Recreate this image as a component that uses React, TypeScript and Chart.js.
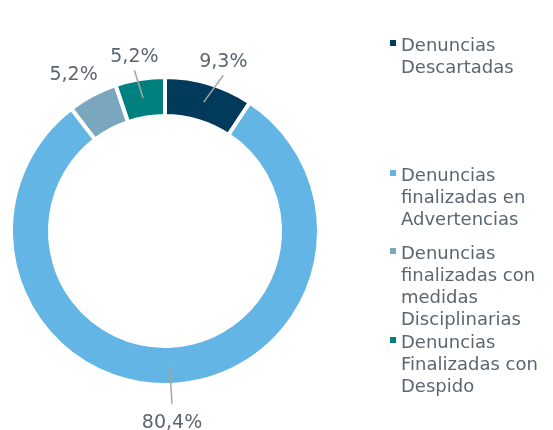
import React, { useEffect, useRef } from 'react';
import { Chart, registerables } from 'chart.js';

Chart.register(...registerables);

const categories: string[][] = [
  ['Denuncias', 'Descartadas'],
  ['Denuncias', 'finalizadas en', 'Advertencias'],
  ['Denuncias', 'finalizadas con', 'medidas', 'Disciplinarias'],
  ['Denuncias', 'Finalizadas con', 'Despido'],
];
const values = [9.3, 80.4, 5.2, 5.2];
const valueLabels = ['9,3%', '80,4%', '5,2%', '5,2%'];
const colors = ['#023A5B', '#63B5E5', '#7AA7BE', '#00807F'];
const leaderLines = [true, true, false, true];

const TEXT = '#5B6670';
const FONT = '"DejaVu Sans", Verdana, sans-serif';
const legendBaselines = [51, 181, 259, 348];

const labelPlugin = {
  id: 'sliceLabels',
  afterDatasetsDraw(chart: any) {
    const ctx = chart.ctx as CanvasRenderingContext2D;
    const meta = chart.getDatasetMeta(0);
    ctx.save();
    ctx.font = `19px ${FONT}`;
    ctx.fillStyle = TEXT;
    ctx.strokeStyle = '#A6A6A6';
    ctx.lineWidth = 1.5;
    meta.data.forEach((arc: any, i: number) => {
      const { x, y, startAngle, endAngle, innerRadius, outerRadius } = arc.getProps(
        ['x', 'y', 'startAngle', 'endAngle', 'innerRadius', 'outerRadius'],
        true
      );
      const mid = (startAngle + endAngle) / 2;
      const cos = Math.cos(mid);
      const sin = Math.sin(mid);
      const text = valueLabels[i];
      const w = ctx.measureText(text).width;
      const rMid = (innerRadius + outerRadius) / 2;
      let tx: number, baseline: number, lx: number, ly: number;
      if (sin < 0) {
        const r = outerRadius + 17;
        tx = x + r * cos + cos * w * 0.55 + 1.5;
        baseline = y + r * sin;
        lx = tx;
        ly = baseline + 8;
      } else {
        const r = outerRadius + 19;
        const px = x + r * cos;
        ly = y + r * sin;
        tx = px + cos * w * 0.5;
        lx = tx;
        baseline = ly + 24;
      }
      if (leaderLines[i]) {
        ctx.beginPath();
        ctx.moveTo(x + rMid * cos, y + rMid * sin);
        ctx.lineTo(lx, ly);
        ctx.stroke();
      }
      ctx.textAlign = 'center';
      ctx.textBaseline = 'alphabetic';
      ctx.fillText(text, tx, baseline);
    });
    ctx.restore();
  },
};

const legendPlugin = {
  id: 'sideLegend',
  afterDraw(chart: any) {
    const ctx = chart.ctx as CanvasRenderingContext2D;
    ctx.save();
    ctx.font = `18px ${FONT}`;
    ctx.textAlign = 'left';
    ctx.textBaseline = 'alphabetic';
    categories.forEach((lines, i) => {
      const b = legendBaselines[i];
      ctx.fillStyle = colors[i];
      ctx.fillRect(390, b - 11, 6, 6);
      ctx.fillStyle = TEXT;
      lines.forEach((ln, j) => ctx.fillText(ln, 401, b + j * 22));
    });
    ctx.restore();
  },
};

export default function App() {
  const ref = useRef<HTMLCanvasElement>(null);
  useEffect(() => {
    if (!ref.current) return;
    const chart = new Chart(ref.current, {
      type: 'doughnut',
      data: {
        labels: categories,
        datasets: [
          {
            data: values,
            backgroundColor: colors,
            borderColor: '#FFFFFF',
            borderWidth: 4,
            hoverBorderWidth: 4,
            hoverOffset: 0,
          },
        ],
      },
      options: {
        animation: false,
        responsive: true,
        maintainAspectRatio: false,
        cutout: '74.7%',
        events: [],
        layout: { padding: { left: 9, right: 232, top: 75, bottom: 43 } },
        plugins: {
          legend: { display: false },
          tooltip: { enabled: false },
        },
      },
      plugins: [labelPlugin, legendPlugin],
    });
    return () => chart.destroy();
  }, []);
  return (
    <div style={{ position: 'fixed', left: 0, top: 0, width: 553, height: 430, background: '#fff' }}>
      <canvas ref={ref} />
    </div>
  );
}
